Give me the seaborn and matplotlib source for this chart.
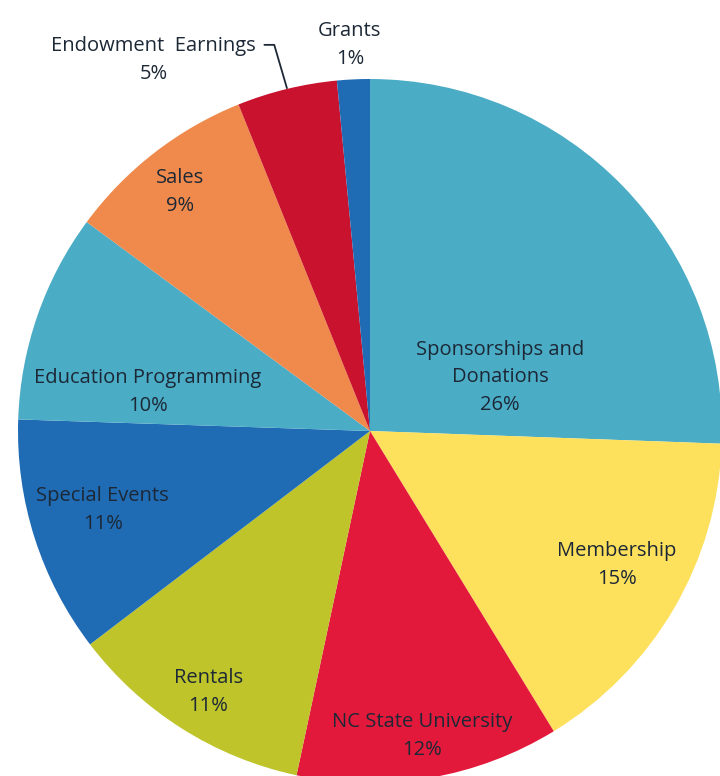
import matplotlib
matplotlib.use("Agg")
import matplotlib.pyplot as plt
import seaborn as sns

# revenue share, clockwise from 12 o'clock
categories = ["Sponsorships and\nDonations", "Membership", "NC State University",
              "Rentals", "Special Events", "Education Programming", "Sales",
              "Endowment  Earnings", "Grants"]
shares = [25.6, 15.7, 12.1, 11.3, 10.9, 9.6, 8.8, 4.6, 1.5]   # slice sizes as drawn
pct_labels = [26, 15, 12, 11, 11, 10, 9, 5, 1]                 # printed labels
colors = ["#4BACC6", "#FDE05C", "#E3193B", "#BEC42A", "#1F6CB5",
          "#4BACC6", "#EF8A4C", "#C8122E", "#1F6CB5"]

# label anchor points (pie radius = 1)
label_xy = [(0.369, 0.153), (0.702, -0.381), (0.148, -0.866), (-0.460, -0.741),
            (-0.759, -0.224), (-0.631, 0.111), (-0.540, 0.679), (-0.614, 1.054),
            (-0.057, 1.097)]

sns.set_theme(style="white")
plt.rcParams["font.family"] = ["Open Sans", "DejaVu Sans"]

fig = plt.figure(figsize=(7.2, 7.76), dpi=100)
ax = fig.add_axes([0, 0, 1, 1])

ax.pie(shares, colors=colors, startangle=90, counterclock=False,
       wedgeprops=dict(linewidth=0), radius=1.0, center=(0, 0))

for name, val, (x, y) in zip(categories, pct_labels, label_xy):
    ax.text(x, y, f"{name}\n{val}%", ha="center", va="center",
            fontsize=14.5, fontweight="medium", color="#1C2836", linespacing=1.5)

# leader line for the endowment slice
ax.plot([-0.300, -0.272, -0.236], [1.097, 1.097, 0.974], color="#1C2836", lw=1.3)

ax.set_xlim(-370 / 352, 350 / 352)
ax.set_ylim(-(776 - 431) / 352, 431 / 352)
ax.set_aspect("equal")
ax.axis("off")

fig.savefig("out.png", dpi=100)
